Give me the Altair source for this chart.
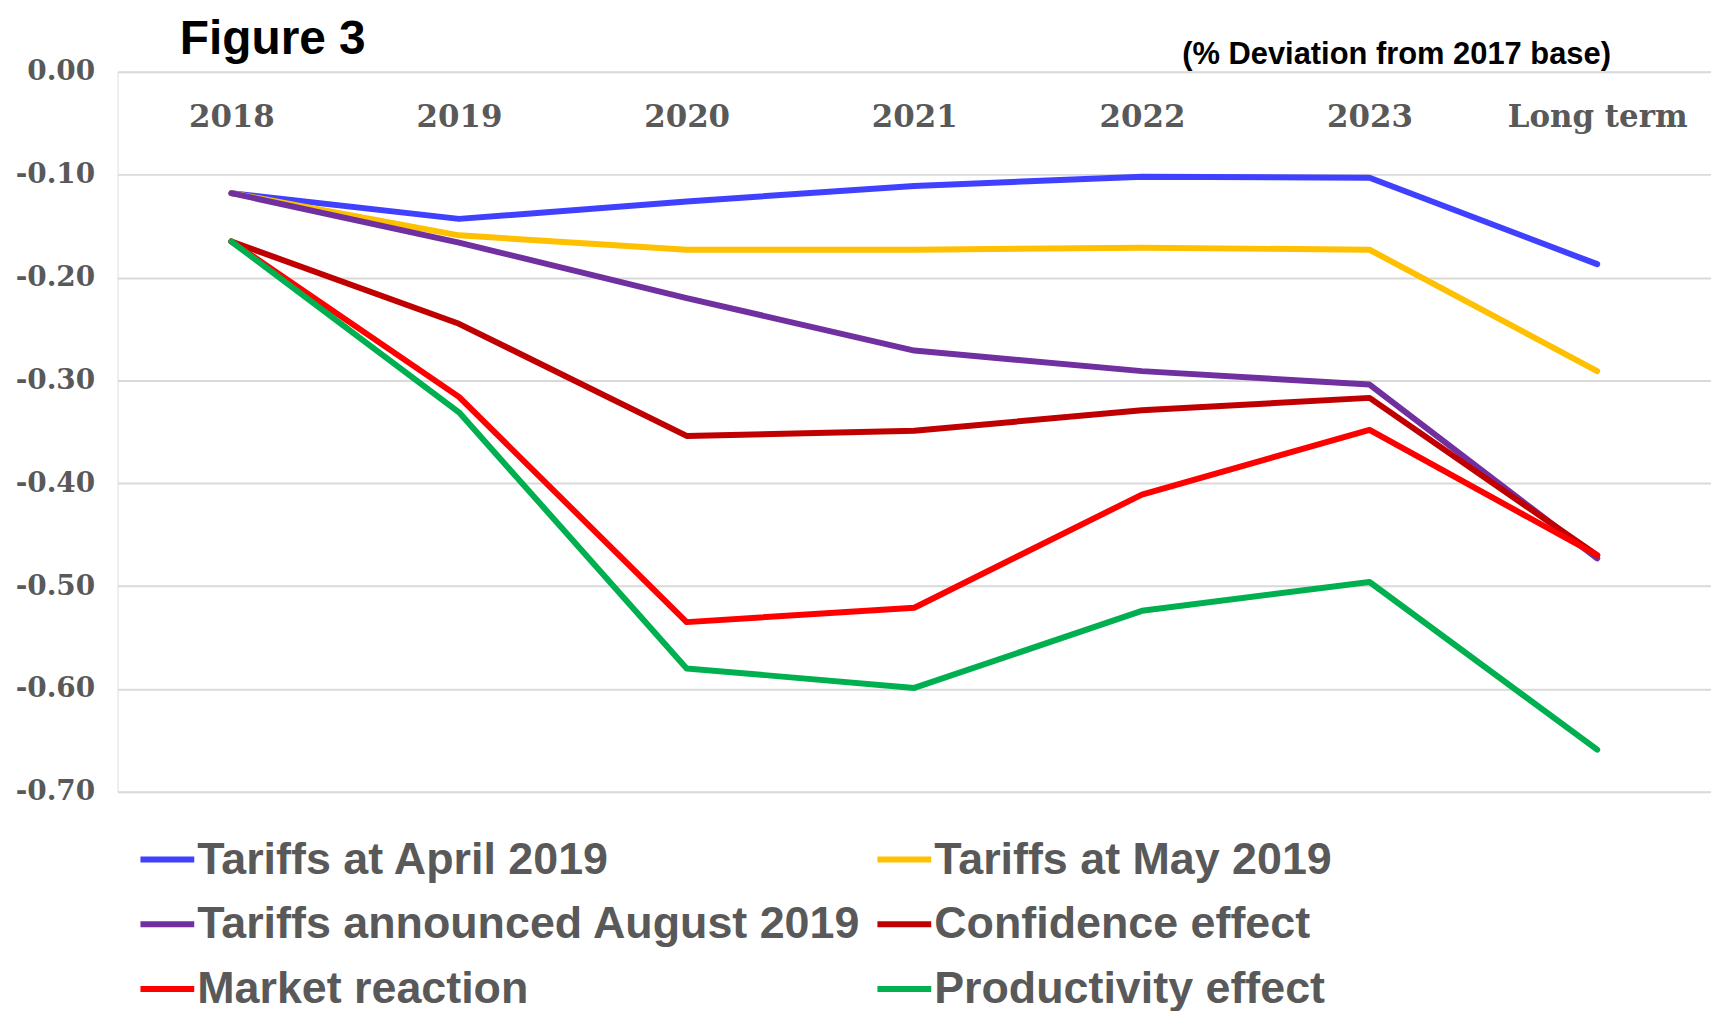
import altair as alt
import pandas as pd

categories = ["2018", "2019", "2020", "2021", "2022", "2023", "Long term"]
series = [
    "Tariffs at April 2019",
    "Tariffs at May 2019",
    "Tariffs announced August 2019",
    "Confidence effect",
    "Market reaction",
    "Productivity effect",
]
april = [-0.118, -0.143, -0.126, -0.111, -0.102, -0.103, -0.187]
may = [-0.118, -0.159, -0.173, -0.173, -0.171, -0.173, -0.291]
august = [-0.118, -0.166, -0.220, -0.271, -0.291, -0.304, -0.473]
confidence = [-0.165, -0.245, -0.354, -0.349, -0.329, -0.317, -0.470]
market = [-0.165, -0.316, -0.535, -0.521, -0.411, -0.348, -0.470]
productivity = [-0.165, -0.331, -0.580, -0.599, -0.524, -0.496, -0.659]
colors = ["#4040FF", "#FFC000", "#7030A0", "#C00000", "#FF0000", "#00B050"]
y_ticks = [0.0, -0.1, -0.2, -0.3, -0.4, -0.5, -0.6, -0.7]

rows = []
for name, vals in zip(series, [april, may, august, confidence, market, productivity]):
    for cat, v in zip(categories, vals):
        rows.append({"series": name, "period": cat, "value": v})
df = pd.DataFrame(rows)

W, H = 1600, 723
SERIF = "DejaVu Serif"
SANS = "Liberation Sans"
GREY = "#595959"

chart = alt.Chart(df).mark_line(strokeWidth=6, strokeCap="round", strokeJoin="round").encode(
    x=alt.X(
        "period:N",
        sort=categories,
        scale=alt.Scale(type="point", padding=0.5),
        axis=alt.Axis(
            orient="bottom", offset=-H, domain=False, ticks=False, tickSize=0, grid=False,
            labelAngle=0, labelPadding=46, labelBaseline="middle", labelLimit=400,
            labelFont=SERIF, labelFontSize=31, labelFontWeight="bold", labelColor=GREY,
            title="(% Deviation from 2017 base)", titleX=1499, titleY=-8,
            titleAlign="right", titleBaseline="alphabetic", titleAngle=0,
            titleFont=SANS, titleFontSize=31, titleFontWeight="bold", titleColor="black",
        ),
    ),
    y=alt.Y(
        "value:Q",
        scale=alt.Scale(domain=[-0.7, 0], nice=False, zero=False),
        axis=alt.Axis(
            values=y_ticks, domain=False, ticks=False, tickSize=0,
            grid=True, gridColor="#D9D9D9", gridWidth=2,
            labelExpr="replace(format(datum.value, '.2f'), '\u2212', '-')",
            labelPadding=23, labelFont=SERIF, labelFontSize=28, labelFontWeight="bold",
            labelColor=GREY,
            title="Figure 3", titleX=62, titleY=-18, titleAngle=0,
            titleAlign="left", titleBaseline="alphabetic",
            titleFont=SANS, titleFontSize=48, titleFontWeight="bold", titleColor="black",
        ),
    ),
    color=alt.Color(
        "series:N",
        sort=series,
        scale=alt.Scale(domain=series, range=colors),
        legend=alt.Legend(
            orient="none", legendX=20, legendY=761, columns=2, direction="horizontal",
            title=None, padding=0,
            symbolType="stroke", symbolSize=2916, symbolStrokeWidth=6,
            labelFont=SANS, labelFontSize=45, labelFontWeight="bold", labelColor=GREY,
            labelOffset=0, labelLimit=1000, rowPadding=12, columnPadding=4,
        ),
    ),
).properties(
    width=W,
    height=H,
    autosize=alt.AutoSizeParams(type="none"),
    padding={"left": 110, "top": 62, "right": 0, "bottom": 218},
).configure_view(stroke=None).configure(background="white")

chart.save("out.html", embed_options={"renderer": "svg", "actions": False})
